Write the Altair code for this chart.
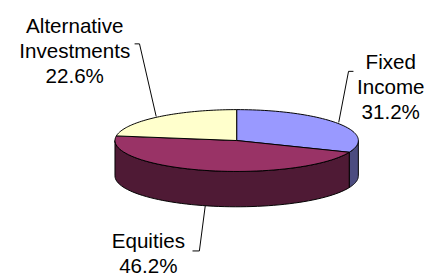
import altair as alt
import pandas as pd

# ---- data ----
categories = ["Fixed Income", "Equities", "Alternative Investments"]
values = [31.2, 46.2, 22.6]
top_colors = ["#9999FF", "#993366", "#FFFFCC"]
side_colors = ["#4C4C80", "#4F1A35", "#80804D"]

# ---- layout (screen pixels) ----
CX, CY, RX, RY, DEPTH = 241, 140.5, 124, 31.5, 36
N = 60
W, H = 430, 269
label_x = [398, 151, 76]
label_y = [68, 250, 31]
# leader segments per label: (x, y, x2, y2)
leaders = [
    [(360, 70, 355, 70), (355, 70, 345, 122)],
    [(209, 207, 203, 253), (203, 253, 196, 253)],
    [(137, 42, 142, 42), (142, 42, 159, 116)],
]

df = pd.DataFrame({
    "category": categories,
    "value": values,
    "order": list(range(len(categories))),
    "top": top_colors,
    "side": side_colors,
})

xs = alt.Scale(domain=[8, 8 + W], nice=False, zero=False)
ys = alt.Scale(domain=[8 + H, 8], nice=False, zero=False)


def xe(f="x"):
    return alt.X(f"{f}:Q", scale=xs, axis=None)


def ye(f="y"):
    return alt.Y(f"{f}:Q", scale=ys, axis=None)


base = alt.Chart(df).transform_window(
    cum="sum(value)", sort=[alt.SortField("order")], frame=[None, 0]
).transform_joinaggregate(total="sum(value)").transform_calculate(
    start="(datum.cum - datum.value) / datum.total * 2 * PI",
    end="datum.cum / datum.total * 2 * PI",
)

side = base.transform_calculate(
    a="max(datum.start, PI / 2)", b="min(datum.end, 3 * PI / 2)"
).transform_filter("datum.b > datum.a").transform_calculate(
    k=f"sequence(0, {2 * N + 2})"
).transform_flatten(["k"]).transform_calculate(
    ang=f"datum.k <= {N} ? datum.a + (datum.b - datum.a) * datum.k / {N} : datum.b - (datum.b - datum.a) * (datum.k - {N} - 1) / {N}",
).transform_calculate(
    x=f"{CX} + {RX} * sin(datum.ang)",
    y=f"{CY} - {RY} * cos(datum.ang) + (datum.k <= {N} ? 0 : {DEPTH})",
).mark_line(interpolate="linear-closed", stroke="black", strokeWidth=1, strokeJoin="round").encode(
    x=xe(), y=ye(), fill=alt.Fill("side:N", scale=None), detail="category:N", order=alt.Order("k:Q")
)

top = base.transform_calculate(
    k=f"sequence(0, {N + 2})"
).transform_flatten(["k"]).transform_calculate(
    ang=f"datum.start + (datum.end - datum.start) * min(datum.k, {N}) / {N}",
).transform_calculate(
    x=f"datum.k <= {N} ? {CX} + {RX} * sin(datum.ang) : {CX}",
    y=f"datum.k <= {N} ? {CY} - {RY} * cos(datum.ang) : {CY}",
).mark_line(interpolate="linear-closed", stroke="black", strokeWidth=1, strokeJoin="round").encode(
    x=xe(), y=ye(), fill=alt.Fill("top:N", scale=None), detail="category:N", order=alt.Order("k:Q")
)

lab_df = pd.DataFrame({
    "label": [c.replace(" ", "\n") + "\n" + f"{v}%" for c, v in zip(categories, values)],
    "x": label_x,
    "y": label_y,
})
labels = alt.Chart(lab_df).mark_text(
    font="Liberation Sans", fontSize=21, lineBreak="\n", lineHeight=25.5,
    align="center", baseline="alphabetic", color="black"
).encode(x=xe(), y=ye(), text="label:N")

seg_rows = []
for segs in leaders:
    for (x1, y1, x2, y2) in segs:
        seg_rows.append({"x": x1, "y": y1, "x2": x2, "y2": y2})
leader_df = pd.DataFrame(seg_rows)
lines = alt.Chart(leader_df).mark_rule(color="black", strokeWidth=1).encode(
    x=xe(), y=ye(), x2="x2:Q", y2="y2:Q"
)

chart = alt.layer(side, top, lines, labels).properties(
    width=W, height=H, padding=0, autosize="none"
).configure_view(stroke=None)

chart.save("out.html", embed_options={"renderer": "svg", "actions": False})
